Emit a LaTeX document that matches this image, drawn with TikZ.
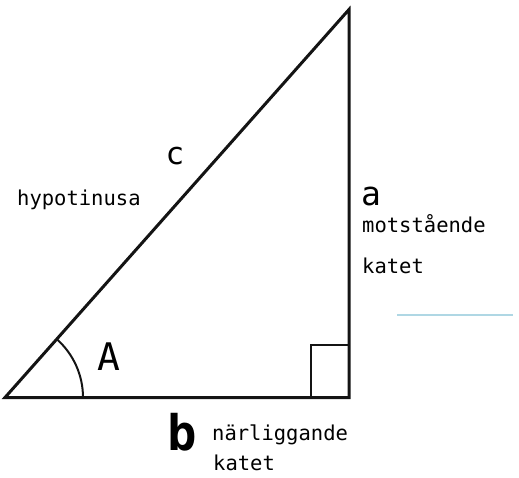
\documentclass[tikz,border=0pt]{standalone}
\usepackage{fontspec}
\setmonofont{DejaVu Sans Mono}
\usepackage{tikz}
\usepackage{xcolor}

\begin{document}
\begin{tikzpicture}[x=1pt, y=-1pt,
    side/.style={line width=3pt, line cap=round, line join=miter},
    thinside/.style={line width=2pt},
    word/.style={font=\ttfamily\fontsize{20.5}{24}\selectfont, anchor=base west, inner sep=0pt},
    letter/.style={font=\ttfamily, inner sep=0pt}]

        % Colours of the scan
        \definecolor{pencil}{RGB}{20, 20, 20}
        \definecolor{scanblue}{RGB}{175, 215, 228}

        % Picture frame
        \useasboundingbox (0,0) rectangle (519,477);

        % Corners of the triangle
        \coordinate (vA) at (5, 397.5);
        \coordinate (vC) at (349, 397.5);
        \coordinate (vB) at (349, 9.5);

        % The three sides
        \draw[side, pencil] (vA) -- (vC) -- (vB) -- cycle;

        % Right angle mark
        \draw[thinside, pencil] (vC) ++(-38,0) -- ++(0,-53) -- ++(38,0);

        % Angle mark at A
        \draw[thinside, pencil] (vA) ++(78,0) arc[start angle=0, end angle=-48.4, radius=78];

        % Side letters and angle letter
        \node[letter, font=\ttfamily\fontsize{31}{31}\selectfont] (lc) at (175, 156) {c};
        \node[letter, font=\ttfamily\fontsize{33}{33}\selectfont] (la) at (371, 196) {a};
        \node[letter, font=\ttfamily\fontsize{38}{38}\selectfont] (lA) at (109, 357) {A};
        \node[letter, font=\ttfamily\bfseries\fontsize{49}{49}\selectfont] (lb) at (182, 432) {b};

        % Names of the sides
        \node[word] (hyp) at (17, 205) {hypotinusa};
        \node[word] (mot) at (362, 232) {motstående};
        \node[word] (motk) at (362, 273) {katet};
        \node[word] (nar) at (212, 440) {närliggande};
        \node[word] (nark) at (213, 470) {katet};

        % Faint stray line from the scan
        \draw[line width=1.6pt, scanblue] (397, 315) -- (513, 315);

    \end{tikzpicture}
\end{document}
